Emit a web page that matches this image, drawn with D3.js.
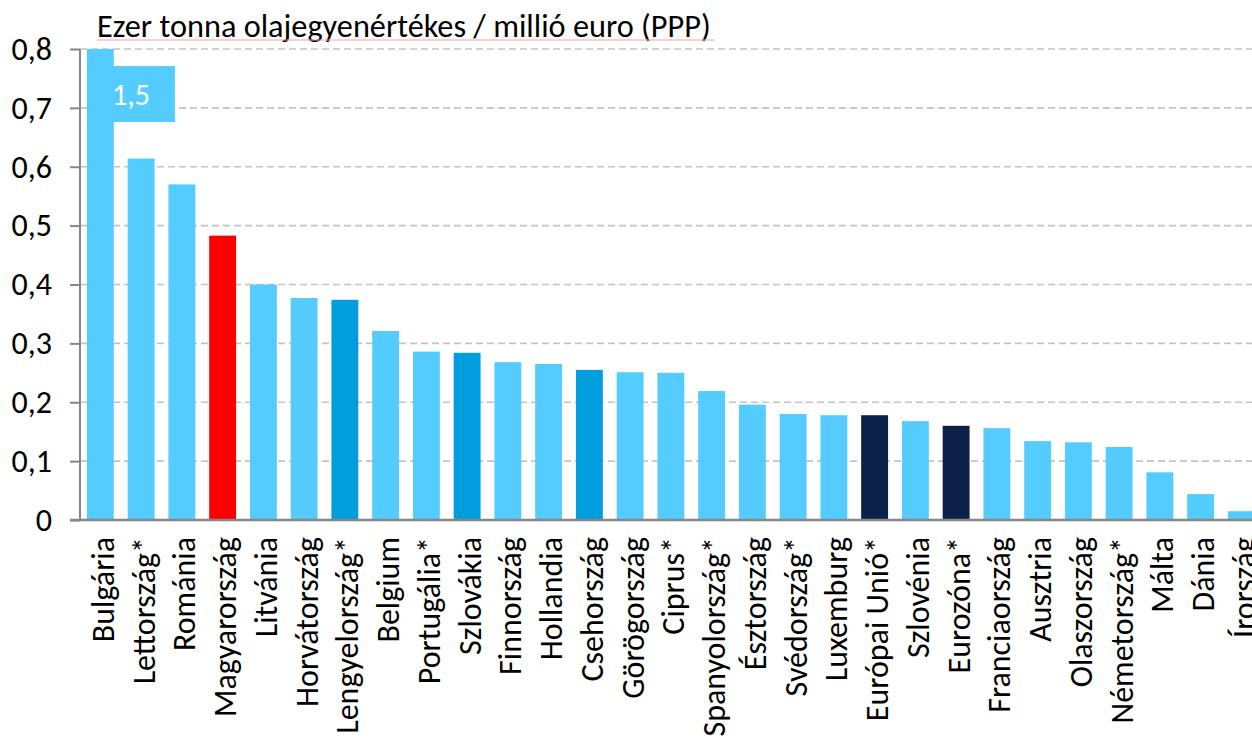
<!DOCTYPE html>
<html><head><meta charset="utf-8">
<script src="https://cdn.jsdelivr.net/npm/d3@7"></script>
<style>
html,body{margin:0;padding:0;background:#fff;overflow:hidden}
svg{display:block;font-family:Carlito,Lato,"Open Sans",sans-serif}
</style></head>
<body>
<svg id="chart" width="1252" height="740"></svg>
<script>
const categories = ["Bulgária","Lettország*","Románia","Magyarország","Litvánia","Horvátország","Lengyelország*","Belgium","Portugália*","Szlovákia","Finnország","Hollandia","Csehország","Görögország","Ciprus*","Spanyolország*","Észtország","Svédország*","Luxemburg","Európai Unió*","Szlovénia","Eurozóna*","Franciaország","Ausztria","Olaszország","Németország*","Málta","Dánia","Írország"];
const values = [1.5,0.614,0.570,0.483,0.400,0.377,0.374,0.321,0.286,0.284,0.268,0.265,0.255,0.251,0.250,0.219,0.196,0.180,0.178,0.178,0.168,0.160,0.156,0.134,0.132,0.124,0.081,0.044,0.015];
const groups = ["base","base","base","hu","base","base","v4","base","base","v4","base","base","v4","base","base","base","base","base","base","avg","base","avg","base","base","base","base","base","base","base"];
const yTicks = [0,0.1,0.2,0.3,0.4,0.5,0.6,0.7,0.8];
const yTickLabels = ["0","0,1","0,2","0,3","0,4","0,5","0,6","0,7","0,8"];
const title = "Ezer tonna olajegyenértékes / millió euro (PPP)";
const overflowLabel = "1,5";

const colors = {base:"#55CCFF", hu:"#FF0000", v4:"#009EDF", avg:"#0C2149"};

(function(){
const svg = d3.select("#chart");
const mLeft = 80, mBottom = 520, mTop = 49;
const step = 40.75;
const x = d3.scaleBand().domain(categories).range([mLeft, mLeft + step*categories.length]).paddingInner(0.34).paddingOuter(0.17);
const y = d3.scaleLinear().domain([0,0.8]).range([mBottom, mTop]).clamp(true);

// gridlines
svg.append("g").selectAll("line").data(yTicks.slice(1)).join("line")
  .attr("x1", mLeft).attr("x2", 1252)
  .attr("y1", d=>y(d)).attr("y2", d=>y(d))
  .attr("stroke","#c3c3c3").attr("stroke-width",1.6).attr("stroke-dasharray","7,4");

// bars
svg.append("g").selectAll("rect").data(categories).join("rect")
  .attr("x", d=>x(d)).attr("width", x.bandwidth())
  .attr("y", (d,i)=>y(values[i])).attr("height", (d,i)=>mBottom - y(values[i]))
  .attr("fill", (d,i)=>colors[groups[i]]);

// overflow label box
const bx = x(categories[0]);
svg.append("rect").attr("x", bx).attr("y", y(0.771)).attr("width", 88).attr("height", y(0.676)-y(0.771)).attr("fill", colors.base);
svg.append("text").attr("x", bx+44).attr("y", y(0.7235)).attr("dy","0.35em")
  .attr("text-anchor","middle").attr("fill","#fff").attr("font-size",30).text(overflowLabel);

// y axis
const yAxis = d3.axisLeft(y).tickValues(yTicks).tickFormat((d,i)=>yTickLabels[i]).tickSize(10).tickPadding(18);
const gy = svg.append("g").attr("transform",`translate(${mLeft},0)`).call(yAxis).attr("font-family",null).attr("font-size",null);
gy.select(".domain").attr("stroke","#868686").attr("stroke-width",2).attr("d",`M0,${mTop}V${mBottom}`);
gy.selectAll(".tick line").attr("stroke","#868686").attr("stroke-width",2);
gy.selectAll(".tick text").attr("font-size",32).attr("fill","#000").attr("x",-28);

// x axis
const xAxis = d3.axisBottom(x).tickSize(0).tickPadding(0);
const gx = svg.append("g").attr("transform",`translate(0,${mBottom})`).call(xAxis).attr("font-family",null).attr("font-size",null);
gx.select(".domain").attr("stroke","#868686").attr("stroke-width",2.5).attr("d",`M70,0H1252`);
gx.selectAll(".tick text").attr("font-size",32).attr("fill","#000")
  .attr("transform","rotate(-90)").attr("text-anchor","end").attr("x",-17).attr("y",0).attr("dy","0.42em");

// title
svg.append("text").attr("x",97).attr("y",37).attr("font-size",32.3).attr("fill","#000").text(title);
svg.append("line").attr("x1",97).attr("x2",715).attr("y1",40).attr("y2",40).attr("stroke","#f3a3a3").attr("stroke-width",1);
})();
</script>
</body></html>
